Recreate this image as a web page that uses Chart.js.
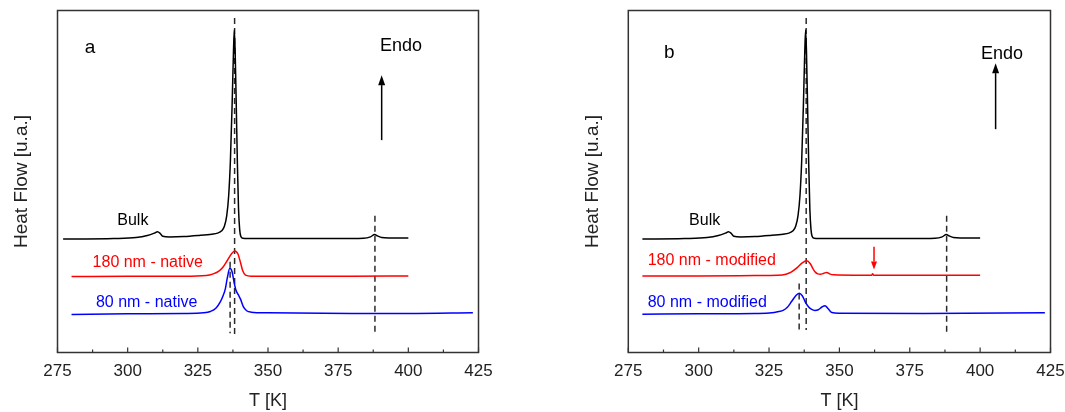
<!DOCTYPE html>
<html>
<head>
<meta charset="utf-8">
<script src="https://cdn.jsdelivr.net/npm/chart.js@4.4.1/dist/chart.umd.min.js"></script>
<style>
  body { margin: 0; background: #fff; }
  #wrap { position: relative; width: 1065px; height: 412px; }
  canvas { position: absolute; top: 0; }
</style>
</head>
<body>
<div id="wrap">
  <canvas id="chartA" width="530" height="412" style="left:0"></canvas>
  <canvas id="chartB" width="535" height="412" style="left:530px"></canvas>
</div>
<script>
// temperature [K] / heat flow [u.a.]
const bulkT  = [277, 280, 285, 295, 303, 307, 309.5, 310.6, 311.6, 312.5, 315, 320, 325, 330, 332, 333.5, 334.5, 335.3, 336, 336.6, 337.2, 337.7, 338.0, 338.3, 338.7, 339.1, 339.5, 339.9, 340.3, 341, 345, 360, 375, 384, 386.5, 388, 389, 390.5, 393, 400];
const bulkHF = [33.2, 33.2, 33.2, 33.3, 33.6, 34.2, 34.9, 35.3, 34.8, 34.0, 33.8, 33.9, 34.2, 34.6, 34.9, 35.6, 37.0, 40.0, 46.0, 56.0, 72.0, 88.0, 94.3, 88.0, 72.0, 55.0, 42.0, 36.0, 34.0, 33.4, 33.3, 33.3, 33.3, 33.4, 33.8, 34.5, 34.1, 33.6, 33.5, 33.5];

const nat180T  = [280, 300, 320, 328, 330.5, 332.5, 334, 335.5, 337, 338.2, 339.3, 340.2, 341, 342, 344, 360, 380, 400];
const nat180HF = [22.2, 22.3, 22.3, 22.5, 23.0, 23.8, 25.0, 26.9, 28.9, 29.7, 28.8, 26.3, 23.9, 22.6, 22.3, 22.3, 22.3, 22.4];

const nat80T  = [280, 300, 320, 327, 329.5, 331.5, 333, 334, 334.8, 335.5, 336.4, 337.2, 337.9, 338.6, 339.4, 340.2, 341.2, 342.4, 344, 350, 380, 400, 423];
const nat80HF = [11.1, 11.3, 11.4, 11.6, 12.0, 13.0, 14.8, 16.6, 18.6, 21.8, 24.6, 23.6, 20.6, 18.2, 16.9, 15.6, 13.4, 12.2, 11.8, 11.6, 11.4, 11.4, 11.6];

const mod180T  = [280, 300, 320, 328, 331, 333, 335, 336.8, 338.4, 339.6, 340.5, 341.3, 342.3, 343.3, 344.5, 345.5, 346.5, 348, 355, 361.4, 361.8, 362.2, 370, 400];
const mod180HF = [22.4, 22.4, 22.5, 22.6, 22.9, 23.6, 24.8, 26.2, 26.8, 26.0, 24.7, 23.6, 23.0, 22.9, 23.2, 23.4, 23.0, 22.7, 22.6, 22.6, 23.0, 22.6, 22.6, 22.6];

const mod80T  = [280, 300, 320, 326, 328.5, 330, 331.5, 333, 334.5, 335.7, 336.8, 338, 339, 340, 341.3, 342.5, 343.8, 344.9, 346, 347.3, 350, 380, 423];
const mod80HF = [11.2, 11.3, 11.4, 11.6, 12.0, 12.3, 13.2, 14.9, 16.6, 17.3, 16.6, 14.6, 13.4, 12.7, 12.3, 12.5, 13.3, 13.7, 12.8, 11.7, 11.5, 11.4, 11.6];

// vertical dashed markers: position, upper end, lower end
const markAT   = [338.1, 336.5, 388.1];
const markATop = [97.8, 26.5, 40.0];
const markABot = [5.3, 5.6, 5.1];
const markBT   = [338.2, 335.7, 388.1];
const markBTop = [97.8, 20.2, 40.0];
const markBBot = [6.6, 6.6, 5.1];

const xTicks = [275, 300, 325, 350, 375, 400, 425];

const FONT = 'Arial, "Liberation Sans", sans-serif';

function pts(xs, ys) {
  return xs.map((v, i) => ({ x: v, y: ys[i] }));
}

function curve(xs, ys, color) {
  return {
    data: pts(xs, ys),
    borderColor: color,
    borderWidth: 1.5,
    pointRadius: 0,
    cubicInterpolationMode: 'monotone',
    fill: false,
  };
}

function marks(ts, tops, bots) {
  return ts.map((t, i) => ({
    data: [{ x: t, y: tops[i] }, { x: t, y: bots[i] }],
    borderColor: '#2a2a2a',
    borderWidth: 1.5,
    borderDash: [6, 4],
    pointRadius: 0,
    fill: false,
  }));
}

const decor = {
  id: 'decor',
  afterDatasetsDraw(chart, args, opts) {
    const { ctx, chartArea: a, scales: { x, y } } = chart;
    ctx.save();
    ctx.strokeStyle = '#333';
    ctx.lineWidth = 1.5;
    ctx.strokeRect(a.left, a.top, a.right - a.left, a.bottom - a.top);

    // inward ticks, major + minor
    ctx.lineWidth = 1.2;
    x.ticks.forEach((tk, i) => {
      const px = x.getPixelForValue(tk.value);
      ctx.beginPath();
      ctx.moveTo(px, a.bottom);
      ctx.lineTo(px, a.bottom - 5);
      ctx.stroke();
      if (i < x.ticks.length - 1) {
        const mx = x.getPixelForValue((tk.value + x.ticks[i + 1].value) / 2);
        ctx.beginPath();
        ctx.moveTo(mx, a.bottom);
        ctx.lineTo(mx, a.bottom - 3);
        ctx.stroke();
      }
    });

    opts.texts.forEach(t => {
      ctx.font = t.size + 'px ' + FONT;
      ctx.fillStyle = t.color || '#000';
      ctx.textAlign = t.align || 'left';
      ctx.textBaseline = 'middle';
      ctx.fillText(t.text, x.getPixelForValue(t.x), y.getPixelForValue(t.y));
    });

    opts.arrows.forEach(ar => {
      const px = x.getPixelForValue(ar.x);
      const y0 = y.getPixelForValue(ar.from);
      const y1 = y.getPixelForValue(ar.to);
      const dir = y1 < y0 ? 1 : -1;
      ctx.strokeStyle = ar.color;
      ctx.fillStyle = ar.color;
      ctx.lineWidth = 1.5;
      ctx.beginPath();
      ctx.moveTo(px, y0);
      ctx.lineTo(px, y1 + dir * ar.head);
      ctx.stroke();
      ctx.beginPath();
      ctx.moveTo(px, y1);
      ctx.lineTo(px - ar.half, y1 + dir * ar.head);
      ctx.lineTo(px + ar.half, y1 + dir * ar.head);
      ctx.closePath();
      ctx.fill();
    });
    ctx.restore();
  }
};

function makeChart(id, datasets, padding, texts, arrows) {
  return new Chart(document.getElementById(id), {
    type: 'scatter',
    data: { datasets },
    options: {
      responsive: false,
      animation: false,
      showLine: true,
      layout: { padding },
      plugins: {
        legend: { display: false },
        tooltip: { enabled: false },
        decor: { texts, arrows },
      },
      scales: {
        x: {
          type: 'linear',
          min: 275,
          max: 425,
          afterBuildTicks: s => { s.ticks = xTicks.map(v => ({ value: v })); },
          afterFit: s => {
            s.height = 59.5;
            // let the end labels hang over the edge instead of shrinking the plot
            s.paddingLeft = 0;
            s.paddingRight = 0;
          },
          grid: { display: false, drawTicks: false },
          border: { display: false },
          ticks: { padding: 9, color: '#222', font: { family: FONT, size: 17 } },
          title: { display: true, text: 'T [K]', color: '#222', padding: { top: 0, bottom: 0 }, font: { family: FONT, size: 18 } },
        },
        y: {
          min: 0,
          max: 100,
          afterFit: s => { s.width = 57.5; },
          grid: { display: false, drawTicks: false },
          border: { display: false },
          ticks: { display: false },
          title: { display: true, text: 'Heat Flow [u.a.]', color: '#222', padding: { top: 10.8, bottom: 0 }, font: { family: FONT, size: 19 } },
        },
      },
    },
    plugins: [decor],
  });
}

makeChart('chartA',
  [
    curve(bulkT, bulkHF, '#000000'),
    curve(nat180T, nat180HF, '#ff0000'),
    curve(nat80T, nat80HF, '#0000ff'),
    ...marks(markAT, markATop, markABot),
  ],
  { left: 0, right: 51.5, top: 10.5, bottom: 0 },
  [
    { text: 'a', x: 286.6, y: 89.0, size: 19, align: 'center' },
    { text: 'Endo', x: 389.9, y: 89.6, size: 18 },
    { text: 'Bulk', x: 296.3, y: 38.7, size: 16 },
    { text: '180 nm - native', x: 287.5, y: 26.4, size: 16, color: '#ff0000' },
    { text: '80 nm - native', x: 288.7, y: 14.7, size: 16, color: '#0000ff' },
  ],
  [
    { x: 390.5, from: 62.1, to: 81.1, color: '#000', head: 10, half: 3.5 },
  ]
);

makeChart('chartB',
  [
    curve(bulkT.slice(1), bulkHF.slice(1), '#000000'),
    curve(mod180T, mod180HF, '#ff0000'),
    curve(mod80T, mod80HF, '#0000ff'),
    ...marks(markBT, markBTop, markBBot),
  ],
  { left: 40.8, right: 14.5, top: 10.5, bottom: 0 },
  [
    { text: 'b', x: 289.6, y: 87.7, size: 19, align: 'center' },
    { text: 'Endo', x: 400.3, y: 87.3, size: 18 },
    { text: 'Bulk', x: 296.6, y: 38.7, size: 16 },
    { text: '180 nm - modified', x: 281.9, y: 26.8, size: 16, color: '#ff0000' },
    { text: '80 nm - modified', x: 281.9, y: 14.6, size: 16, color: '#0000ff' },
  ],
  [
    { x: 405.5, from: 65.3, to: 84.6, color: '#000', head: 10, half: 3.5 },
    { x: 362.3, from: 30.9, to: 24.3, color: '#ff0000', head: 8, half: 3 },
  ]
);
</script>
</body>
</html>
